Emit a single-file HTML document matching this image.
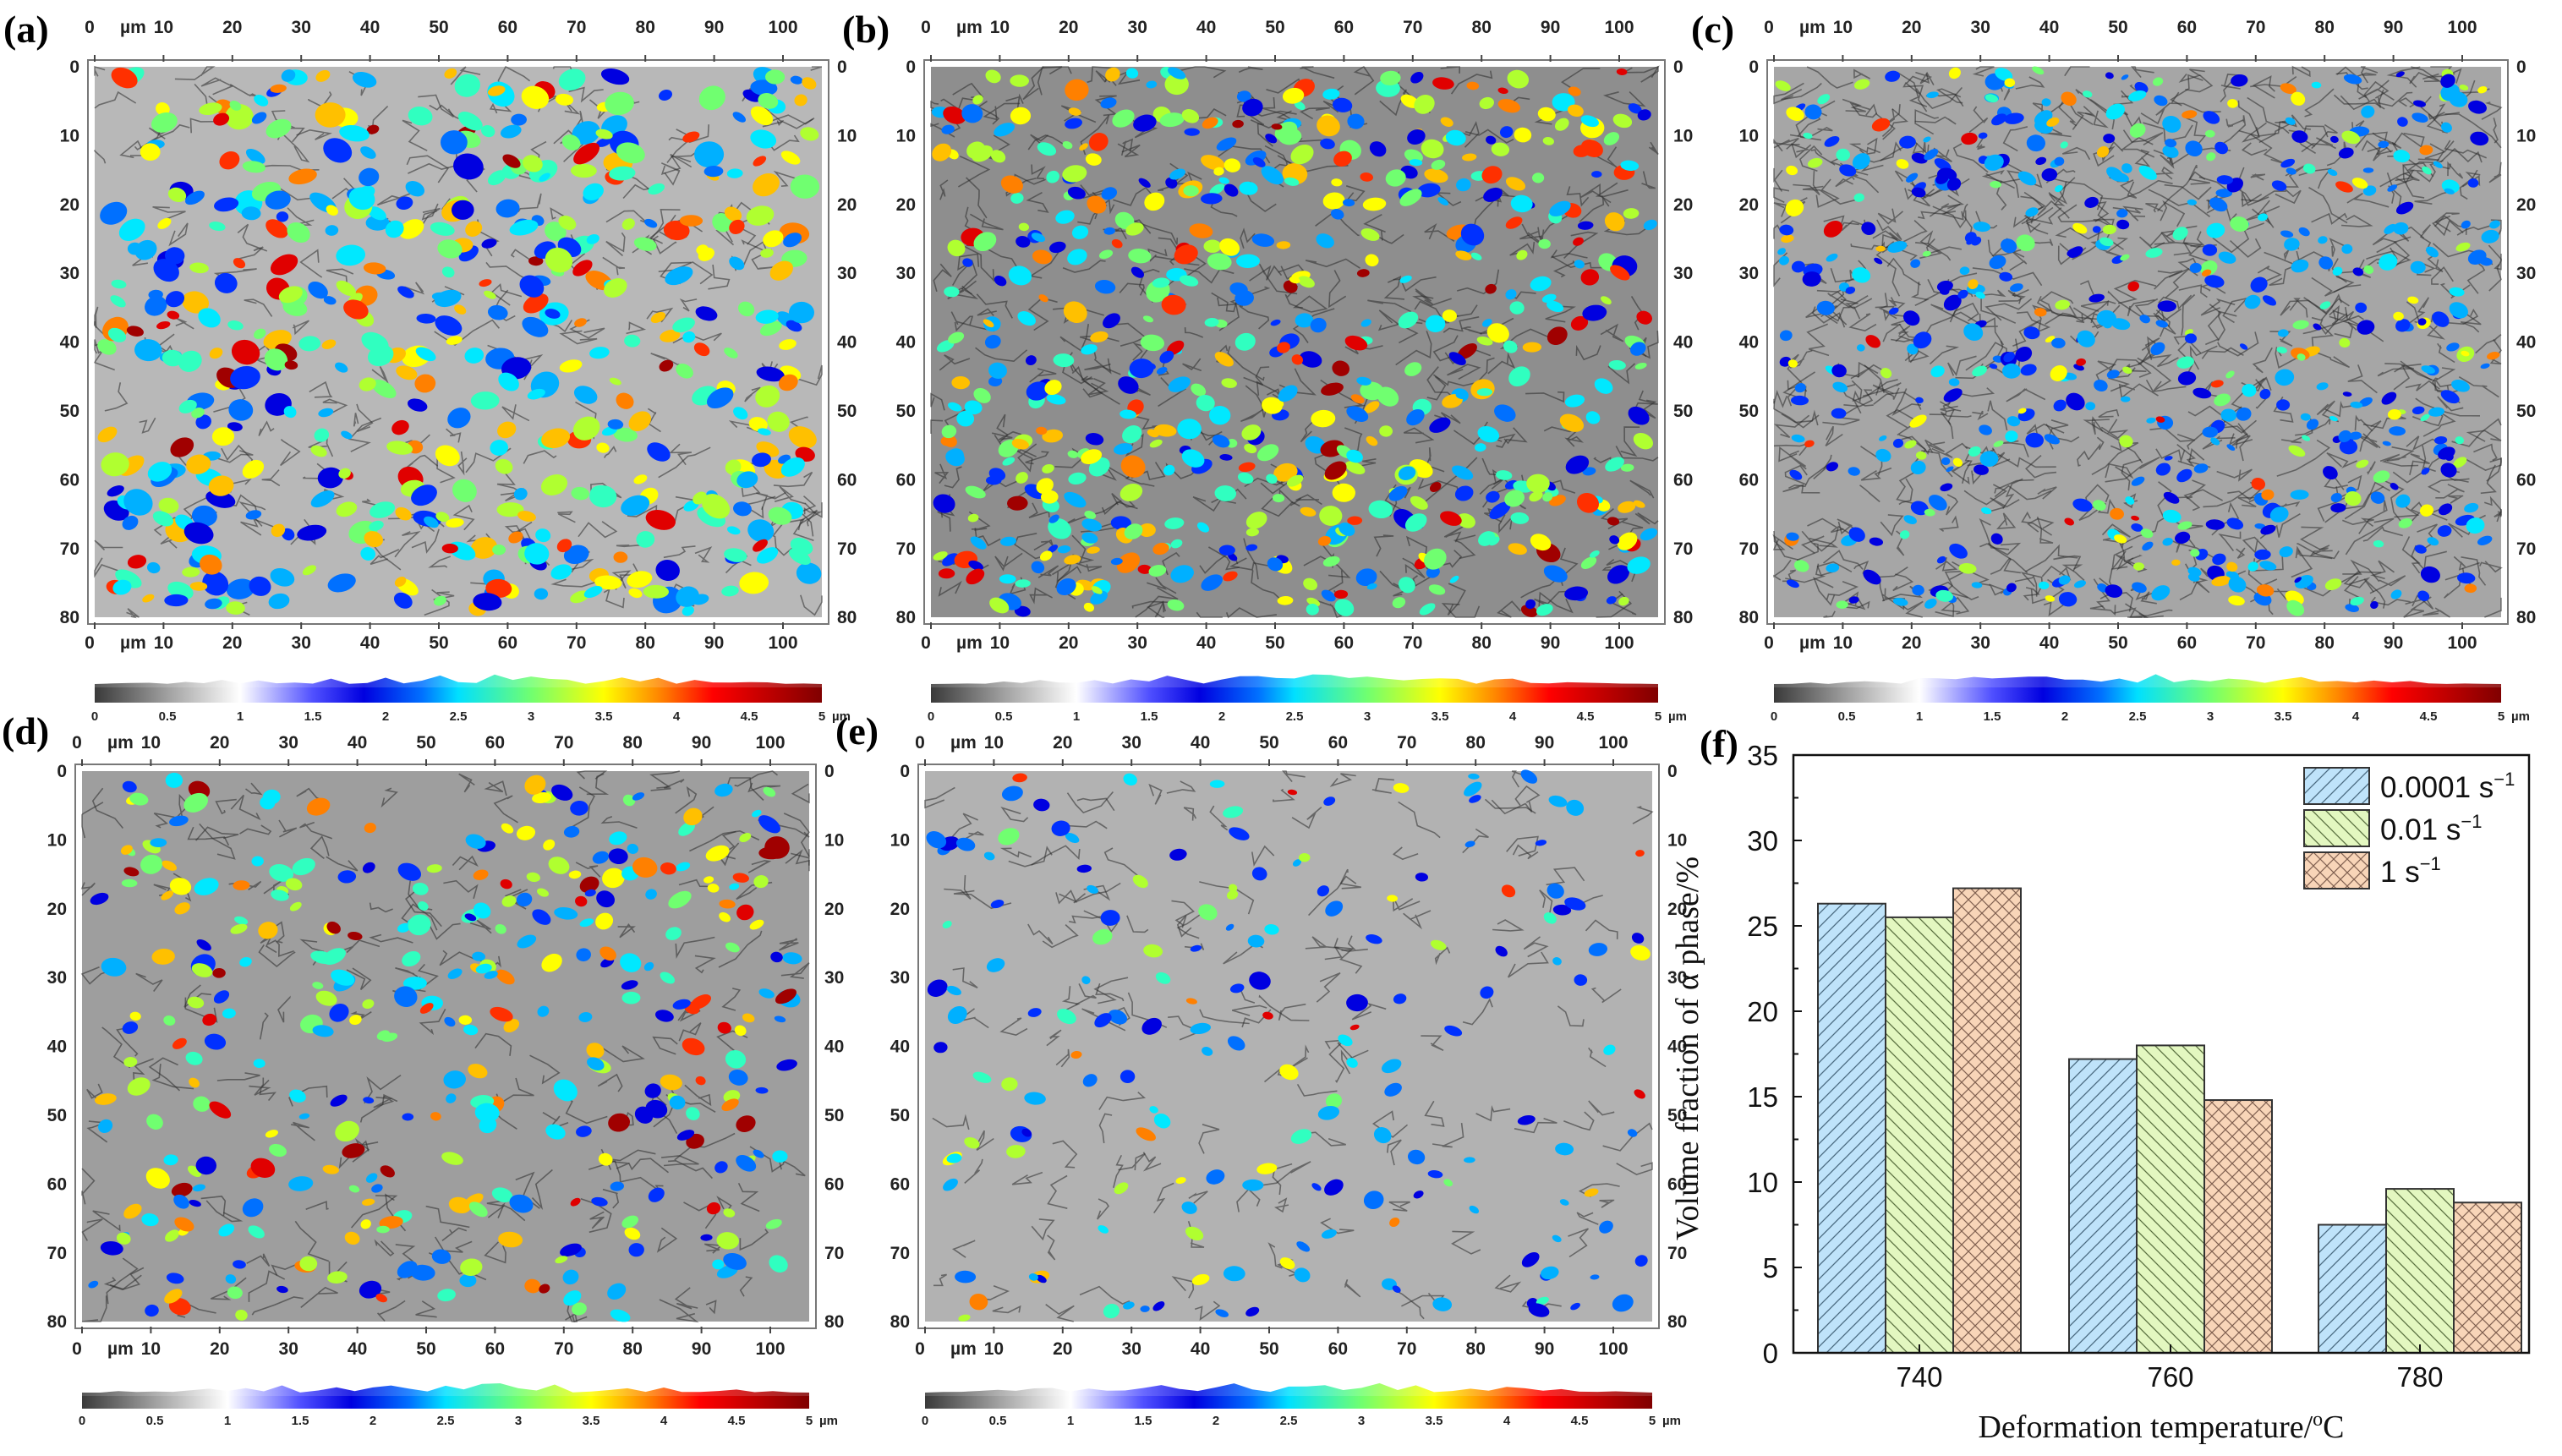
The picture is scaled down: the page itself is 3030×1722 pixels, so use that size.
<!DOCTYPE html>
<html><head><meta charset="utf-8"><style>
html,body{margin:0;padding:0;background:#fff;}
svg{display:block;}
</style></head><body>
<svg id="fig" width="3030" height="1722" viewBox="0 0 3030 1722" xmlns="http://www.w3.org/2000/svg">
<defs>
<linearGradient id="cbar" x1="0" x2="1" y1="0" y2="0">
<stop offset="0" stop-color="#3a3a3a"/><stop offset="0.1" stop-color="#a0a0a0"/><stop offset="0.2" stop-color="#ffffff"/>
<stop offset="0.3" stop-color="#5050ff"/><stop offset="0.37" stop-color="#0000e0"/><stop offset="0.45" stop-color="#0070ff"/>
<stop offset="0.5" stop-color="#00e0ff"/><stop offset="0.6" stop-color="#70ff70"/><stop offset="0.7" stop-color="#ffff00"/>
<stop offset="0.78" stop-color="#ff8000"/><stop offset="0.85" stop-color="#ff0000"/><stop offset="1" stop-color="#800000"/>
</linearGradient>
<pattern id="hatchA" width="16" height="16" patternUnits="userSpaceOnUse"><rect width="16" height="16" fill="#bfe3fa"/><path d="M-4,4 L4,-4 M0,16 L16,0 M12,20 L20,12" stroke="#4a6a80" stroke-width="1.3"/></pattern>
<pattern id="hatchB" width="16" height="16" patternUnits="userSpaceOnUse"><rect width="16" height="16" fill="#e3f7c0"/><path d="M-4,12 L4,20 M0,0 L16,16 M12,-4 L20,4" stroke="#5a7040" stroke-width="1.3"/></pattern>
<pattern id="hatchC" width="16" height="16" patternUnits="userSpaceOnUse"><rect width="16" height="16" fill="#f8d5b8"/><path d="M0,0 L16,16 M0,16 L16,0" stroke="#806050" stroke-width="1.2"/></pattern>
</defs>
<g id="maps"></g>
<g id="chart"></g>
</svg>
<script>
// ---- Bar chart data (panel f) ----
const categories = ["740","760","780"];
const rate1 = [26.3, 17.2, 7.5];   // 0.0001 s^-1
const rate2 = [25.5, 18.0, 9.6];   // 0.01 s^-1
const rate3 = [27.2, 14.8, 8.8];   // 1 s^-1
const seriesLabels = ["0.0001 s","0.01 s","1 s"];
const yTicks = [0,5,10,15,20,25,30,35];

const NS="http://www.w3.org/2000/svg";
function mk(tag, attrs, parent, text){const e=document.createElementNS(NS,tag);for(const k in attrs)e.setAttribute(k,attrs[k]);if(text!==undefined)e.textContent=text;parent.appendChild(e);return e;}

// ---- EBSD maps (decorative texture) ----
let seed=12345;function rnd(){seed=(seed*1103515245+12345)%2147483648;return seed/2147483648;}
const maps=document.getElementById('maps');
const jet=["#0000e0","#0030ff","#0070ff","#00b0ff","#00e8ff","#30ffc0","#70ff70","#b0ff30","#ffff00","#ffc000","#ff8000","#ff3000","#e00000","#a00000"];
const panels=[
 {id:'a',x:112,y:79,bg:'#b8b8b8',n:480,mode:'mid',size:0.9,lines:220,lab:[4,50],top:39,bot:767,cb:813,cbl:852},
 {id:'b',x:1101,y:79,bg:'#8e8e8e',n:560,mode:'mid',size:0.75,lines:320,lab:[996,50],top:39,bot:767,cb:813,cbl:852},
 {id:'c',x:2098,y:79,bg:'#a6a6a6',n:520,mode:'blue',size:0.6,lines:650,lab:[2000,50],top:39,bot:767,cb:813,cbl:852},
 {id:'d',x:97,y:912,bg:'#9e9e9e',n:330,mode:'mid',size:0.75,lines:180,lab:[2,880],top:885,bot:1602,cb:1651,cbl:1685},
 {id:'e',x:1094,y:912,bg:'#b2b2b2',n:170,mode:'blue',size:0.65,lines:150,lab:[988,880],top:885,bot:1602,cb:1651,cbl:1685}
];
function pickColor(mode){
 const r=rnd();
 if(mode==='blue'){
  if(r<0.6)return Math.floor(rnd()*4);
  if(r<0.93)return 3+Math.floor(rnd()*6);
  return 9+Math.floor(rnd()*4);
 }
 if(r<0.22)return Math.floor(rnd()*3);
 if(r<0.88)return 3+Math.floor(rnd()*7);
 if(r<0.97)return 10+Math.floor(rnd()*3);
 return 13;
}
const W=860,H=651,PX=8.14;
panels.forEach(p=>{
 const g=mk('g',{},maps);
 
 
 mk('rect',{x:p.x-8,y:p.y-8,width:W+16,height:H+16,fill:'#fff',stroke:'#777','stroke-width':2},g);
 mk('rect',{x:p.x,y:p.y,width:W,height:H,fill:p.bg},g);
 for(let i=0;i<p.lines;i++){
  let x=p.x+rnd()*W,y=p.y+rnd()*H,d='M'+x.toFixed(1)+','+y.toFixed(1);
  for(let k=0;k<4;k++){x+= (rnd()-0.5)*50;y+=(rnd()-0.5)*34;x=Math.min(p.x+W,Math.max(p.x,x));y=Math.min(p.y+H,Math.max(p.y,y));d+=' L'+x.toFixed(1)+','+y.toFixed(1);}
  mk('path',{d:d,fill:'none',stroke:'#2a2a2a','stroke-width':1.6,opacity:0.55},g);
 }
 for(let i=0;i<p.n;i++){
  const rx=(8+rnd()*12)*p.size,ry=rx*(0.5+rnd()*0.4);
  const cx=p.x+rx+rnd()*(W-2*rx),cy=p.y+ry+rnd()*(H-2*ry);
  const ci=pickColor(p.mode);
  mk('ellipse',{cx:cx.toFixed(1),cy:cy.toFixed(1),rx:rx.toFixed(1),ry:ry.toFixed(1),fill:jet[ci],transform:'rotate('+((rnd()-0.5)*70).toFixed(0)+' '+cx.toFixed(1)+' '+cy.toFixed(1)+')'},g);
 }
 const st='font-family:"Liberation Sans",sans-serif;font-weight:bold;font-size:21px;fill:#222';
 for(let v=0;v<=100;v+=10){
  const x=p.x+v*PX;
  mk('text',{x:v===0?x-6:x,y:p.top,'text-anchor':'middle',style:st},g,String(v));
  mk('text',{x:v===0?x-6:x,y:p.bot,'text-anchor':'middle',style:st},g,String(v));
  mk('line',{x1:x,y1:p.y-14,x2:x,y2:p.y-6,stroke:'#444','stroke-width':2},g);
  mk('line',{x1:x,y1:p.y+H+6,x2:x,y2:p.y+H+14,stroke:'#444','stroke-width':2},g);
 }
 mk('text',{x:p.x+30,y:p.top,style:st},g,'µm');
 mk('text',{x:p.x+30,y:p.bot,style:st},g,'µm');
 for(let v=0;v<=80;v+=10){
  const y=p.y+v*PX;
  mk('text',{x:p.x-18,y:y+7,'text-anchor':'end',style:st},g,String(v));
  mk('text',{x:p.x+W+18,y:y+7,'text-anchor':'start',style:st},g,String(v));
 }
 const lab=mk('text',{x:p.lab[0],y:p.lab[1],style:'font-family:"Liberation Serif",serif;font-weight:bold;font-size:46px;fill:#000'},g,'('+p.id+')');
 
 
 const cb=mk('g',{},g);
 
 
 let d='M'+p.x+','+(p.cb);
 for(let k=0;k<=40;k++){const xx=p.x+k*W/40;const hh=4+rnd()*12*Math.sin(Math.PI*k/40);d+=' L'+xx.toFixed(1)+','+(p.cb-hh).toFixed(1);}
 d+=' L'+(p.x+W)+','+p.cb+' Z';
 mk('path',{d:d,fill:'url(#cbar)',opacity:0.85},cb);
 mk('rect',{x:p.x,y:p.cb,width:W,height:p.id<'d'?18:15,fill:'url(#cbar)'},cb);
 for(let k=0;k<=10;k++){
  mk('text',{x:p.x+k*W/10,y:p.cbl,'text-anchor':'middle',style:'font-family:"Liberation Sans",sans-serif;font-weight:bold;font-size:15px;fill:#222'},cb,String(k/2));
 }
 mk('text',{x:p.x+W+12,y:p.cbl,style:'font-family:"Liberation Sans",sans-serif;font-weight:bold;font-size:15px;fill:#222'},cb,'µm');
});

// ---- Chart (f) ----
const ch=document.getElementById('chart');
const X0=2121,X1=2991,Y0=1600,Y1=893;
function yS(v){return Y0-(v/35)*(Y0-Y1);}
const groupCenters=[2270,2567,2862];
function xS(i){return groupCenters[i];}
const BW=80;
const series=[rate1,rate2,rate3];const fills=['url(#hatchA)','url(#hatchB)','url(#hatchC)'];
series.forEach((s,si)=>{
 s.forEach((v,i)=>{
  const r=mk('rect',{x:xS(i)+(si-1.5)*BW,y:yS(v),width:BW,height:Y0-yS(v),fill:fills[si],stroke:'#333','stroke-width':2},ch);
  
  
 });
});
mk('rect',{x:X0,y:Y1,width:X1-X0,height:Y0-Y1,fill:'none',stroke:'#111','stroke-width':2.5},ch);
const ts='font-family:"Liberation Sans",sans-serif;font-size:33px;fill:#111';
yTicks.forEach(v=>{
 const t=mk('text',{x:X0-18,y:yS(v)+12,'text-anchor':'end',style:ts},ch,String(v));
 
 
 mk('line',{x1:X0,y1:yS(v),x2:X0+10,y2:yS(v),stroke:'#111','stroke-width':2},ch);
 if(v<35)mk('line',{x1:X0,y1:yS(v+2.5),x2:X0+6,y2:yS(v+2.5),stroke:'#111','stroke-width':2},ch);
});
categories.forEach((c,i)=>{
 const t=mk('text',{x:xS(i),y:1640,'text-anchor':'middle',style:ts},ch,c);
 
 
 mk('line',{x1:xS(i),y1:Y0,x2:xS(i),y2:Y0-10,stroke:'#111','stroke-width':2},ch);
});
const xl=mk('text',{x:2556,y:1700,'text-anchor':'middle',style:'font-family:"Liberation Serif",serif;font-size:38px;fill:#111'},ch,'Deformation temperature/');


mk('tspan',{dy:-14,'font-size':24},xl,'o');
mk('tspan',{dy:14},xl,'C');
const yl=mk('text',{x:0,y:0,transform:'translate(2008,1240) rotate(-90)','text-anchor':'middle',style:'font-family:"Liberation Serif",serif;font-size:38px;fill:#111'},ch,'Volume fraction of α phase/%');


const fl=mk('text',{x:2010,y:895,style:'font-family:"Liberation Serif",serif;font-weight:bold;font-size:46px;fill:#000'},ch,'(f)');


const legY=[908,958,1008];
seriesLabels.forEach((l,i)=>{
 const g=mk('g',{},ch);
 
 
 mk('rect',{x:2725,y:legY[i],width:77,height:43,fill:fills[i],stroke:'#333','stroke-width':2},g);
 const t=mk('text',{x:2815,y:legY[i]+35,style:'font-family:"Liberation Sans",sans-serif;font-size:35px;fill:#111'},g,l);
 mk('tspan',{dy:-14,'font-size':22},t,'−1');
});
</script>
</body></html>
